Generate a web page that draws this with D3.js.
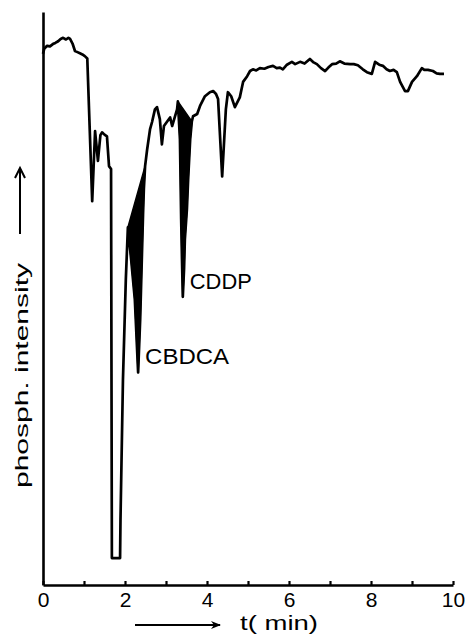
<!DOCTYPE html>
<html>
<head>
<meta charset="utf-8">
<script src="https://cdn.jsdelivr.net/npm/d3@7"></script>
<style>
  body { margin: 0; background: #fff; }
  svg { display: block; }
  text { font-family: "Liberation Sans", Arial, sans-serif; fill: #000; }
</style>
</head>
<body>
<div id="container"></div>
<script>
// 数据：时间 (min) 与磷光强度 (任意单位)
const times = [
  0.00, 0.03, 0.10, 0.17, 0.24, 0.30, 0.37, 0.43, 0.49, 0.56, 0.62, 0.66, 0.72, 0.78, 0.84, 0.90, 0.96, 1.02, 1.08,
  1.20, 1.27, 1.30, 1.34, 1.40, 1.44, 1.50, 1.56, 1.61, 1.66, 1.68, 1.88, 1.89, 1.95, 2.02, 2.07,
  2.15, 2.24, 2.32, 2.37, 2.41, 2.44, 2.46, 2.49, 2.54, 2.61, 2.66, 2.73, 2.78, 2.85, 2.90, 2.95,
  3.02, 3.10, 3.15, 3.20, 3.27, 3.29, 3.34, 3.37, 3.39, 3.41, 3.44, 3.46, 3.51, 3.54, 3.59, 3.63,
  3.66, 3.76, 3.83, 3.95, 4.07, 4.15, 4.22, 4.27, 4.37, 4.46, 4.51, 4.59, 4.68, 4.80, 4.88, 4.98,
  5.05, 5.12, 5.20, 5.29, 5.40, 5.50, 5.61, 5.70, 5.78, 5.85, 5.95, 6.07, 6.15, 6.27, 6.38, 6.51,
  6.60, 6.68, 6.78, 6.88, 6.96, 7.05, 7.15, 7.24, 7.35, 7.49, 7.58, 7.68, 7.80, 7.90, 8.02, 8.10,
  8.20, 8.29, 8.38, 8.46, 8.55, 8.63, 8.71, 8.83, 8.90, 9.00, 9.12, 9.24, 9.30, 9.39, 9.51, 9.60,
  9.68, 9.78
];
const intensity = [
  92.7, 93.6, 94.1, 94.0, 94.4, 94.6, 94.9, 95.3, 95.5, 95.2, 95.5, 95.3, 94.5, 93.2, 93.0, 92.8, 92.6, 92.3, 91.9,
  67.0, 79.2, 77.0, 74.0, 78.5, 79.0, 78.6, 78.3, 73.1, 72.6, 4.7, 4.7, 11.4, 35.8, 53.3, 62.4,
  56.8, 49.8, 37.1, 46.3, 56.8, 64.7, 69.1, 73.1, 76.0, 79.5, 80.8, 83.0, 83.4, 81.3, 76.9, 80.1,
  80.8, 81.6, 80.1, 81.3, 83.0, 84.4, 77.8, 63.8, 56.8, 50.3, 55.1, 60.3, 65.6, 70.8, 77.8, 80.9,
  81.8, 82.2, 83.6, 85.3, 86.0, 86.2, 85.7, 84.8, 71.3, 83.0, 86.0, 85.3, 83.4, 85.1, 87.8, 88.8,
  89.7, 90.0, 89.8, 90.2, 90.1, 90.4, 90.6, 90.2, 90.3, 90.0, 90.8, 91.3, 90.9, 91.3, 91.0, 91.8,
  91.2, 90.9, 90.2, 89.7, 90.3, 90.9, 91.0, 91.4, 91.0, 90.9, 90.9, 90.7, 90.0, 89.5, 89.2, 91.3,
  90.8, 90.6, 90.0, 89.7, 89.9, 89.5, 87.8, 86.2, 86.2, 87.8, 88.8, 90.2, 89.9, 89.9, 89.7, 89.3,
  89.2, 89.2
];

// 峰：名称、起止时间、峰尖时间
const peakNames = ["CBDCA", "CDDP"];
const peakStart = [2.07, 3.29];
const peakEnd = [2.49, 3.63];
const peakApex = [2.32, 3.41];

// 坐标轴
const xTicks = [0, 1, 2, 3, 4, 5, 6, 7, 8, 9, 10];
const xLabels = ["0", "", "2", "", "4", "", "6", "", "8", "", "10"];
const xTitle = "t( min)";
const yTitle = "phosph. intensity";

const W = 470, H = 635;
const points = times.map((t, i) => [t, intensity[i]]);

const setAttrs = (el, attrs) =>
  Object.entries(attrs).reduce((acc, [key, val]) => acc.attr(key, val), el);

const svg = d3.select("#container").append("svg");
setAttrs(svg, { width: W, height: H, viewBox: `0 0 ${W} ${H}` });

const x = d3.scaleLinear().domain([0, 10]).range([43, 453]);
const y = d3.scaleLinear().domain([0, 100]).range([585, 12]);

// 箭头
const defs = svg.append("defs");
const marker = defs.append("marker");
setAttrs(marker, {
  id: "arrow", viewBox: "0 0 10 10", refX: 9, refY: 5,
  markerWidth: 5, markerHeight: 5, orient: "auto", markerUnits: "strokeWidth"
});
setAttrs(marker.append("path"), { d: "M0,1L10,5L0,9L3,5Z", fill: "#000" });

// x 轴
const xAxis = d3.axisBottom(x)
  .tickValues(xTicks)
  .tickFormat((d, i) => xLabels[i])
  .tickSizeInner(-4)
  .tickSizeOuter(0)
  .tickPadding(7);
const gx = svg.append("g").attr("transform", `translate(0,${y(0)})`).call(xAxis);
gx.select(".domain").attr("stroke", "#000").attr("stroke-width", 2.6);
gx.selectAll(".tick line").attr("stroke", "#000").attr("stroke-width", 2.2);
gx.selectAll(".tick text")
  .attr("font-family", "Liberation Sans, Arial, sans-serif")
  .attr("font-size", 21)
  .attr("fill", "#000");

// y 轴 (只有轴线)
const yAxis = d3.axisLeft(y).tickValues([]).tickSizeOuter(0);
const gy = svg.append("g").attr("transform", `translate(${x(0)},0)`).call(yAxis);
gy.select(".domain").attr("stroke", "#000").attr("stroke-width", 2.6);

// 峰面积 (黑色填充)
const line = d3.line().x((d) => x(d[0])).y((d) => y(d[1]));
peakNames.forEach((name, i) => {
  const seg = points.filter(([t]) => t >= peakStart[i] && t <= peakEnd[i]);
  const area = svg.append("path");
  setAttrs(area, { d: line(seg) + "Z", fill: "#000", stroke: "#000", "stroke-width": 1.5, "stroke-linejoin": "round" });

  // 标注
  const apex = points.find(([t]) => t === peakApex[i]);
  const label = svg.append("text").text(name);
  setAttrs(label, {
    x: x(apex[0]) + 7,
    y: y(apex[1]) - 8,
    "font-size": 22,
    textLength: i === 0 ? 84 : 62,
    lengthAdjust: "spacingAndGlyphs"
  });
});

// 曲线
const curve = svg.append("path");
setAttrs(curve, {
  d: line(points),
  fill: "none",
  stroke: "#000",
  "stroke-width": 2.7,
  "stroke-linejoin": "round"
});

// x 轴标题与箭头
setAttrs(svg.append("text").text(xTitle), {
  x: 240, y: 630, "font-size": 20, textLength: 78, lengthAdjust: "spacingAndGlyphs"
});
setAttrs(svg.append("line"), {
  x1: 135, y1: 625, x2: 220, y2: 625, stroke: "#000", "stroke-width": 2, "marker-end": "url(#arrow)"
});

// y 轴标题与箭头
setAttrs(svg.append("text").text(yTitle), {
  transform: "translate(28,488) rotate(-90)",
  "font-size": 18,
  textLength: 225,
  lengthAdjust: "spacingAndGlyphs"
});
setAttrs(svg.append("line"), {
  x1: 20, y1: 234, x2: 20, y2: 170, stroke: "#000", "stroke-width": 2
});
setAttrs(svg.append("path"), {
  d: "M15,178L20,168L25,178", fill: "none", stroke: "#000", "stroke-width": 2, "stroke-linejoin": "miter"
});
</script>
</body>
</html>
